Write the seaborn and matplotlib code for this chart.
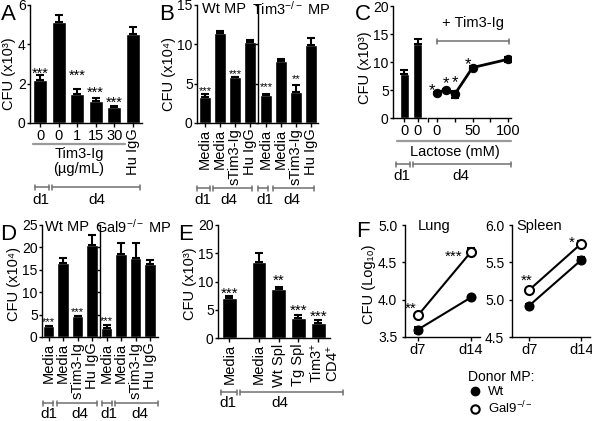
import numpy as np
import pandas as pd
import seaborn as sns
import matplotlib.pyplot as plt
from matplotlib.lines import Line2D
from matplotlib.transforms import Affine2D, blended_transform_factory

# ---- values ----
# A: Tim3-Ig dose (x10^3)
a_labels = ['0', '0', '1', '15', '30', 'Hu IgG']
a_mean = [2.2, 5.12, 1.47, 1.14, 0.81, 4.53]
a_sem = [0.26, 0.38, 0.26, 0.13, 0.07, 0.35]
a_sig = ['***', '', '***', '***', '***', '']

# B: Wt MP / Tim3-/- MP (x10^4)
b_labels = ['Media', 'Media', 'sTim3-Ig', 'Hu IgG']
b_wt_mean = [3.35, 11.4, 5.8, 10.3]
b_wt_sem = [0.4, 0.3, 0.0, 0.2]
b_wt_sig = ['***', '', '***', '']
b_ko_mean = [3.6, 7.9, 4.0, 9.9]
b_ko_sem = [0.1, 0.2, 0.8, 0.9]
b_ko_sig = ['***', '', '**', '']

# C: lactose (x10^3)
c_bar_labels = ['0', '0']
c_bar_mean = [7.9, 13.3]
c_bar_sem = [0.7, 0.8]
c_lactose = [0, 12.5, 25, 50, 100]
c_line_mean = [4.5, 5.05, 4.2, 9.0, 10.5]
c_line_sem = [0.2, 0.2, 0.6, 0.2, 0.45]
c_sig = ['*', '*', '*', '*', '']

# D: Wt MP / Gal9-/- MP (x10^4)
d_labels = ['Media', 'Media', 'sTim3-Ig', 'Hu IgG']
d_wt_mean = [2.4, 16.6, 4.6, 20.6]
d_wt_sem = [0.1, 1.0, 0.15, 2.2]
d_wt_sig = ['***', '', '***', '']
d_ko_mean = [2.05, 18.6, 17.6, 16.4]
d_ko_sem = [0.7, 2.4, 3.4, 0.7]
d_ko_sig = ['***', '', '', '']

# E: splenocytes (x10^3)
e_labels = ['Media', 'Media', 'Wt Spl', 'Tg Spl', 'Tim3$^{+}$\nCD4$^{+}$']
e_mean = [7.05, 13.5, 8.65, 3.5, 2.65]
e_sem = [0.45, 1.6, 0.3, 0.6, 0.45]
e_sig = ['***', '', '**', '***', '***']

# F: CFU log10
f_days = ['d7', 'd14']
f_lung_wt = [3.60, 4.03]
f_lung_wt_sem = [0.04, 0.02]
f_lung_ko = [3.79, 4.64]
f_lung_ko_sem = [0.02, 0.05]
f_lung_sig = ['**', '***']
f_spleen_wt = [4.92, 5.53]
f_spleen_wt_sem = [0.02, 0.04]
f_spleen_ko = [5.13, 5.75]
f_spleen_ko_sem = [0.02, 0.04]
f_spleen_sig = ['**', '*']

# ---- style ----
W, H = 592, 421
sns.set_style('ticks')
plt.rcParams['font.family'] = ['Liberation Sans', 'DejaVu Sans']
plt.rcParams['mathtext.fontset'] = 'custom'
plt.rcParams['mathtext.rm'] = 'Liberation Sans'
plt.rcParams['mathtext.it'] = 'Liberation Sans:italic'
plt.rcParams['mathtext.bf'] = 'Liberation Sans:bold'
plt.rcParams['axes.linewidth'] = 1.0
plt.rcParams['text.color'] = 'black'
plt.rcParams['xtick.color'] = 'black'
plt.rcParams['ytick.color'] = 'black'
plt.rcParams['axes.edgecolor'] = 'black'

GREY = '#707070'
LIGHT = '#9a9a9a'

fig = plt.figure(figsize=(W / 100, H / 100), dpi=100)
PX = Affine2D().scale(1 / W, -1 / H).translate(0, 1) + fig.transFigure


def panel(x0, y0, x1, y1):
    ax = fig.add_axes([x0 / W, 1 - y1 / H, (x1 - x0) / W, (y1 - y0) / H])
    sns.despine(ax=ax)
    ax.tick_params(axis='both', width=1, labelsize=10)
    ax.tick_params(axis='y', length=2.5, pad=0.6)
    ax.tick_params(axis='x', length=3, pad=1)
    return ax


def bars(ax, pos, mean, sem, width):
    df = pd.DataFrame({'pos': pos, 'cfu': mean})
    sns.barplot(data=df, x='pos', y='cfu', native_scale=True, width=width,
                color='black', saturation=1, errorbar=None, ax=ax)
    ax.errorbar(pos, mean, yerr=[[0] * len(sem), sem], fmt='none',
                ecolor='black', elinewidth=1.5, capsize=3, capthick=1.5)
    ax.set_xlabel('')
    ax.set_ylabel('')


def sig(ax, xs, ys, marks, size, gap, dx=0, ha='center'):
    em = size * 100 / 72
    n = len(marks)
    gap = np.broadcast_to(gap, n)
    dx = np.broadcast_to(dx, n)
    for x, y, m, g, d in zip(xs, ys, marks, gap, dx):
        if m:
            ax.annotate(m, (x, y), xytext=(d * 0.72, (g - 0.6 * em) * 0.72),
                        textcoords='offset points', ha=ha, va='baseline',
                        fontsize=size, annotation_clip=False)


def seg(xs, ys, color=GREY, lw=1.1):
    fig.add_artist(Line2D(xs, ys, transform=PX, color=color, lw=lw))


def span(x0, x1, y, color=GREY):
    seg([x0, x1], [y, y], color)
    seg([x0, x0], [y - 2.5, y + 2.5], color)
    seg([x1, x1], [y - 2.5, y + 2.5], color)


def txt(x, y, s, size=10.5, **kw):
    kw.setdefault('ha', 'center')
    kw.setdefault('va', 'center')
    fig.text(x, y, s, transform=PX, fontsize=size, **kw)


def days(y, ly, d1, d4, l1=None, l4=None):
    span(d1[0], d1[1], y)
    span(d4[0], d4[1], y)
    txt(l1 if l1 else sum(d1) / 2, ly, 'd1', 11)
    txt(l4 if l4 else sum(d4) / 2, ly, 'd4', 11)


def ylab(xbase, y, s):
    # xbase is the baseline of the rotated label
    txt(xbase, y, s, 10.5, rotation=90, rotation_mode='anchor', va='baseline')


def letter(x, y, s):
    txt(x, y, s, 16, ha='left', va='baseline')


def tops(mean, sem):
    return [m + s for m, s in zip(mean, sem)]


# ---- A ----
ax = panel(30, 5, 142, 123)
x = np.arange(len(a_mean))
bars(ax, x, a_mean, a_sem, 0.75)
ax.set_xlim(-0.55, 5.5)
ax.set_ylim(0, 6)
ax.set_yticks([0, 2, 4, 6])
ax.set_xticks(x)
ax.set_xticklabels(a_labels, fontsize=10.5)
ax.get_xticklabels()[-1].set_rotation(90)
sig(ax, x, tops(a_mean, a_sem), a_sig, 10.5, [6, 0, 18, 10, 8, 0])
seg([33, 125], [144, 144], LIGHT, 1.6)
txt(79, 154, 'Tim3-Ig')
txt(79, 169, '(µg/mL)')
days(187, 200, (35, 49), (52, 140), 41, 97)
letter(1, 20, 'A')
ylab(13.5, 74, 'CFU (x10³)')

# ---- B ----
for (x0, x1), mean, sem, marks, gap, title, tx in [
        ((197, 257), b_wt_mean, b_wt_sem, b_wt_sig, 6.5, 'Wt MP', 224),
        ((258, 318), b_ko_mean, b_ko_sem, b_ko_sig, 10, 'Tim3$^{-/-}$ MP', 291)]:
    ax = panel(x0, 5, x1, 123)
    x = np.arange(len(mean))
    bars(ax, x, mean, sem, 0.8)
    ax.set_xlim(-0.53, 3.47)
    ax.set_ylim(0, 15)
    ax.set_yticks([0, 5, 10, 15])
    ax.set_xticks(x)
    ax.set_xticklabels(b_labels, rotation=90, fontsize=10.5)
    if x0 > 200:
        ax.tick_params(labelleft=False)
    sig(ax, x, tops(mean, sem), marks, 8, gap)
    txt(tx, 9, title, 10.5)
days(188, 200, (197, 210), (213, 252), 203, 229)
days(188, 200, (258, 268), (273, 314), 265, 292)
letter(159, 20, 'B')
ylab(173.5, 74, 'CFU (x10⁴)')

# ---- C ----
ax = panel(393, 6, 426, 118)
x = np.arange(len(c_bar_mean))
bars(ax, x, c_bar_mean, c_bar_sem, 0.7)
ax.set_xlim(-0.88, 1.65)
ax.set_ylim(0, 20)
ax.set_yticks([0, 5, 10, 15, 20])
ax.set_xticks(x)
ax.set_xticklabels(c_bar_labels, fontsize=10.5)

ax = panel(428, 6, 511, 118)
ax.spines['left'].set_visible(False)
ax.tick_params(left=False, labelleft=False)
sns.lineplot(x=c_lactose, y=c_line_mean, color='black', lw=2, marker='o',
             markersize=6, markeredgecolor='black', ax=ax)
ax.errorbar(c_lactose, c_line_mean, yerr=c_line_sem, fmt='none', ecolor='black',
            elinewidth=1.5, capsize=3, capthick=1.5)
ax.set_xlim(-12.2, 103.8)
ax.set_ylim(0, 20)
ax.set_xticks([-12, 0, 25, 50, 75, 100])
ax.set_xticklabels(['', '0', '', '50', '', '100'], fontsize=10.5)
sig(ax, c_lactose, c_line_mean, c_sig, 12, [8, 12, 17, 8, 0], [-5, 0, 0, -4.5, 0])
txt(473, 23, '+ Tim3-Ig', 10.5)
span(437, 509, 41)
seg([397, 511], [141, 141], LIGHT, 1.6)
txt(455, 152, 'Lactose (mM)', 10.5)
days(164, 176, (396, 410), (413, 511), 402, 461)
letter(355, 20, 'C')
ylab(369.5, 68, 'CFU (x10³)')

# ---- D ----
for (x0, x1), mean, sem, marks, title, tx in [
        ((42, 100), d_wt_mean, d_wt_sem, d_wt_sig, 'Wt MP', 67),
        ((100, 158), d_ko_mean, d_ko_sem, d_ko_sig, 'Gal9$^{-/-}$ MP', 133)]:
    ax = panel(x0, 225, x1, 337)
    x = np.arange(len(mean))
    bars(ax, x, mean, sem, 0.78)
    ax.set_xlim(-0.45, 3.55)
    ax.set_ylim(0, 25)
    ax.set_yticks([0, 5, 10, 15, 20, 25])
    ax.set_xticks(x)
    ax.set_xticklabels(d_labels, rotation=90, fontsize=10.5)
    if x0 > 50:
        ax.tick_params(labelleft=False)
    sig(ax, x, tops(mean, sem), marks, 8, 7.5)
    txt(tx, 227, title, 10.5)
days(403, 414, (43, 53), (57, 97), 48.5, 80)
days(403, 414, (102, 112), (115, 158), 109, 140)
letter(0, 240, 'D')
ylab(18, 284, 'CFU (x10⁴)')

# ---- E ----
ax = panel(218, 225, 330, 338)
x = [0, 1.5, 2.5, 3.5, 4.5]
bars(ax, x, e_mean, e_sem, 0.75)
ax.set_xlim(-0.58, 5.1)
ax.set_ylim(0, 20)
ax.set_yticks([0, 5, 10, 15, 20])
ax.set_xticks(x)
ax.set_xticklabels(e_labels[:-1] + [''], rotation=90, fontsize=10.5)
ax.text(x[-1] + 0.32, -0.045, e_labels[-1], rotation=90, ha='center', va='top',
        fontsize=10.5, linespacing=0.95,
        transform=blended_transform_factory(ax.transData, ax.transAxes))
sig(ax, x, tops(e_mean, e_sem), e_sig, 11, [7, 0, 11.5, 9, 9.3])
days(392, 403, (221, 237), (240, 343), 228, 280)
letter(178, 240, 'E')
ylab(194, 284, 'CFU (x10³)')

# ---- F ----
for (x0, x1), wt, wt_sem, ko, ko_sem, marks, lims, name, tx, lay in [
        ((405, 480), f_lung_wt, f_lung_wt_sem, f_lung_ko, f_lung_ko_sem, f_lung_sig,
         (3.5, 5.0, -0.245, 1.17), 'Lung', 434,
         ([12, 0], [-1, -9], 'right')),
        ((512, 590), f_spleen_wt, f_spleen_wt_sem, f_spleen_ko, f_spleen_ko_sem, f_spleen_sig,
         (4.5, 6.0, -0.33, 1.17), 'Spleen', 539,
         ([14, 6], [-2.5, -9], 'center'))]:
    ax = panel(x0, 225, x1, 337)
    x = [0, 1]
    sns.lineplot(x=x, y=wt, color='black', lw=1.5, marker='o', markersize=6.5,
                 markeredgecolor='black', ax=ax)
    ax.errorbar(x, wt, yerr=wt_sem, fmt='none', ecolor='black', elinewidth=1.5,
                capsize=3, capthick=1.5)
    sns.lineplot(x=x, y=ko, color='black', lw=1.5, marker='o', markersize=6.5,
                 markerfacecolor='white', markeredgecolor='black',
                 markeredgewidth=1.5, ax=ax)
    ax.errorbar(x, ko, yerr=ko_sem, fmt='none', ecolor='black', elinewidth=1.5,
                capsize=3, capthick=1.5, zorder=1)
    ax.set_ylim(lims[0], lims[1])
    ax.set_xlim(lims[2], lims[3])
    ticks = np.arange(lims[0], lims[1] + 0.01, 0.5)
    ax.set_yticks(ticks)
    ax.set_yticklabels([f'{t:.1f}' for t in ticks])
    ax.tick_params(axis='y', pad=3)
    ax.set_xticks(x)
    ax.set_xticklabels(f_days, fontsize=10.5)
    sig(ax, x, ko, marks, 11, lay[0], lay[1], lay[2])
    txt(tx, 226, name, 10.5)
letter(356, 237, 'F')
ylab(373, 284, 'CFU (Log₁₀)')

handles = [Line2D([], [], marker='o', ls='none', color='black', markersize=6),
           Line2D([], [], marker='o', ls='none', color='black', markersize=6,
                  markerfacecolor='white', markeredgewidth=1.5)]
fig.legend(handles, ['Wt', 'Gal9$^{-/-}$'], title='Donor MP:', frameon=False,
           loc='upper left', bbox_to_anchor=(468 / W, 1 - 370 / H),
           fontsize=9.5, title_fontsize=10, handlelength=0.8, handletextpad=0.6,
           labelspacing=0.15, borderpad=0, borderaxespad=0)

fig.savefig('out.png', dpi=100)
